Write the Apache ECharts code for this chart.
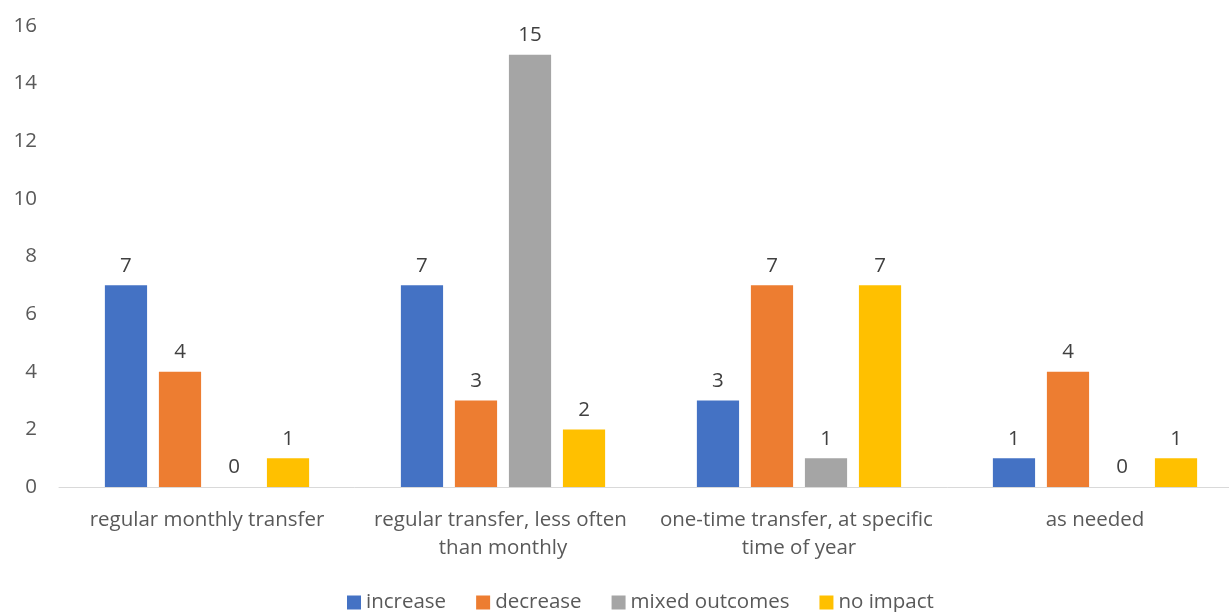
<!DOCTYPE html>
<html>
<head>
<meta charset="utf-8">
<script src="https://cdn.jsdelivr.net/npm/echarts@6/dist/echarts.min.js"></script>
<style>
  html, body { margin: 0; padding: 0; background: #fff; overflow: hidden; }
  /* the drawing surface runs a little past the right edge of the window */
  #chart { width: 1243px; height: 612px; }
</style>
</head>
<body>
<div id="chart"></div>
<script>
// Transfer timing categories and outcome counts
const categories = [
  'regular monthly transfer',
  'regular transfer, less often than monthly',
  'one-time transfer, at specific time of year',
  'as needed'
];
const increase = [7, 7, 3, 1];
const decrease = [4, 3, 7, 4];
const mixedOutcomes = [0, 15, 1, 0];
const noImpact = [1, 2, 7, 1];
const seriesNames = ['increase', 'decrease', 'mixed outcomes', 'no impact'];
const colors = ['#4472C4', '#ED7D31', '#A5A5A5', '#FFC000'];

const FONT = 'Open Sans';
const TEXT = '#595959';
const SIZE = 20.5;

function makeSeries(name, data, color) {
  return {
    name: name,
    type: 'bar',
    data: data,
    itemStyle: { color: color },
    barGap: '28%',
    barCategoryGap: '31%',
    label: {
      show: true,
      position: 'top',
      distance: 9,
      color: '#404040',
      fontFamily: FONT,
      fontSize: SIZE
    }
  };
}

const chart = echarts.init(document.getElementById('chart'));
chart.setOption({
  animation: false,
  color: colors,
  textStyle: { fontFamily: FONT },
  grid: { left: 59, right: 0, top: 26, bottom: 125, containLabel: false },
  legend: {
    top: 587,
    left: 342,
    itemWidth: 14,
    itemHeight: 14,
    itemGap: 30,
    icon: 'rect',
    textStyle: { color: TEXT, fontFamily: FONT, fontSize: SIZE },
    data: seriesNames
  },
  xAxis: {
    type: 'category',
    data: categories,
    axisLine: { lineStyle: { color: '#D9D9D9', width: 1 } },
    axisTick: { show: false },
    axisLabel: {
      color: TEXT,
      fontFamily: FONT,
      fontSize: SIZE,
      margin: 19,
      lineHeight: 28,
      interval: 0,
      width: 288,
      overflow: 'break'
    }
  },
  yAxis: {
    type: 'value',
    min: 0,
    max: 16,
    interval: 2,
    axisLine: { show: false },
    axisTick: { show: false },
    splitLine: { show: false },
    axisLabel: { color: TEXT, fontFamily: FONT, fontSize: SIZE, margin: 22 }
  },
  series: [
    makeSeries(seriesNames[0], increase, colors[0]),
    makeSeries(seriesNames[1], decrease, colors[1]),
    makeSeries(seriesNames[2], mixedOutcomes, colors[2]),
    makeSeries(seriesNames[3], noImpact, colors[3])
  ]
});
</script>
</body>
</html>
